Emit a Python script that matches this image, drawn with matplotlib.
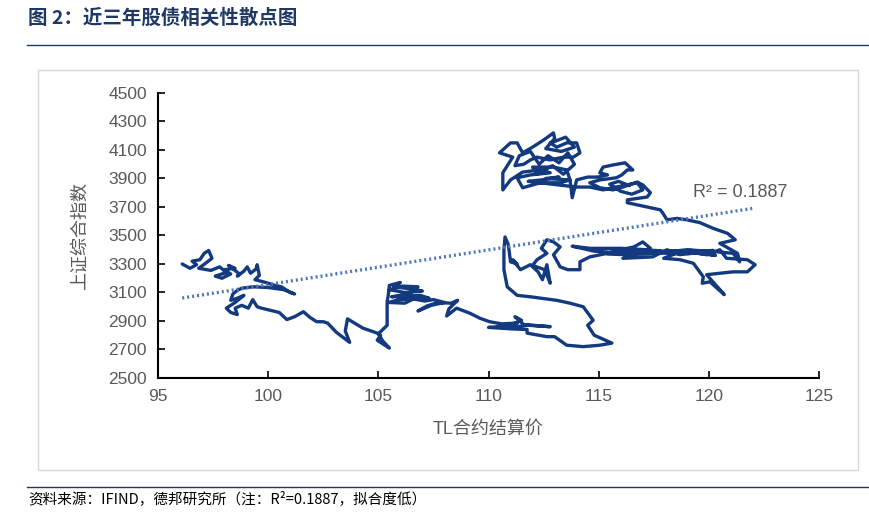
import matplotlib.pyplot as plt
from matplotlib.patches import Rectangle
from matplotlib.lines import Line2D

plt.rcParams['font.family'] = ['Liberation Sans', 'Noto Sans CJK SC', 'DejaVu Sans']

# === 数据：TL合约结算价 vs 上证综合指数（按图读取的轨迹，分段） ===
left_tl = [96.1, 96.45, 96.75, 96.55, 96.9, 97.1, 97.3, 97.45, 97.2, 96.85, 97.4, 97.8, 98.1,
           97.6, 97.9, 98.3, 98.0, 98.5, 98.2, 98.7, 98.6, 98.9, 99.05, 99.2, 99.45, 99.5,
           99.6, 99.4, 99.9, 100.3, 100.6, 101.0, 101.2, 100.7, 100.0, 99.3, 98.8, 98.6, 98.4,
           98.3, 98.6, 98.9, 98.5, 98.1, 98.3, 98.6, 98.5, 98.8, 99.1, 99.3, 99.5, 99.7, 100.1,
           100.5, 100.85, 101.2, 101.6, 101.9, 102.2, 102.5, 102.7, 103.1, 103.7, 103.5, 103.6,
           104.3, 104.95, 105.1, 104.95, 105.5, 105.2, 105.0, 105.4, 105.4]
left_sh = [3300, 3270, 3295, 3320, 3330, 3375, 3395, 3340, 3310, 3270, 3255, 3280, 3240,
           3215, 3200, 3230, 3260, 3270, 3290, 3230, 3215, 3250, 3280, 3235, 3265, 3295,
           3220, 3190, 3170, 3150, 3140, 3100, 3090, 3120, 3135, 3140, 3130, 3115, 3090,
           3045, 3060, 3080, 3030, 2990, 2960, 2945, 2990, 3010, 2990, 3050, 3000, 2990, 2975,
           2960, 2910, 2930, 2965, 2925, 2895, 2895, 2885, 2820, 2750, 2830, 2915,
           2850, 2815, 2800, 2765, 2710, 2760, 2810, 2870, 2975]

mid_tl = [105.4, 105.45, 105.5, 106.0, 105.7, 106.5, 107.0, 106.2, 105.5, 106.1, 106.8, 106.4,
          105.6, 106.9, 107.3, 105.9, 105.5, 106.2, 106.6, 107.1, 107.5, 108.0, 107.4, 106.8,
          107.2, 107.7, 108.3, 108.6, 108.2, 108.1, 108.55, 109.15]
mid_sh = [3035, 3080, 3150, 3170, 3140, 3125, 3110, 3100, 3120, 3145, 3140, 3090,
          3070, 3080, 3060, 3050, 3030, 3025, 3055, 3040, 3050, 3030, 3010, 2970,
          3005, 3030, 3025, 3045, 2985, 2935, 2990, 2955]

low_tl = [109.6, 110.05, 110.6, 111.3, 110.4, 111.0, 111.8, 112.8, 111.6, 111.2, 111.5, 110.9,
          110.0, 111.0, 111.75, 111.75, 112.65, 113.0, 113.55, 114.3, 115.05, 115.6, 114.8,
          114.5, 114.75, 114.3, 113.7, 113.1, 111.9, 111.3, 110.85, 110.7, 110.7, 110.75]
low_sh = [2920, 2895, 2880, 2885, 2860, 2855, 2870, 2860, 2875, 2930, 2905, 2865,
          2855, 2845, 2840, 2815, 2790, 2790, 2730, 2720, 2730, 2745, 2800,
          2870, 2905, 3000, 3025, 3045, 3070, 3080, 3140, 3260, 3400, 3490]

right_tl = [110.9, 111.0, 111.3, 111.1, 111.45, 111.9, 112.25, 112.45, 112.65, 112.8, 112.55,
            112.0, 112.2, 112.65, 112.4, 112.65, 112.95, 113.25, 112.95, 113.25, 113.6, 114.15,
            114.15, 114.6, 115.4, 116.0, 116.6, 117.0, 117.35, 116.75, 116.1, 117.45, 118.1,
            118.7, 119.15, 119.9, 120.5, 120.8, 121.75, 122.1, 121.75, 121.1, 120.5, 119.9,
            120.7, 120.05, 119.7, 119.75, 119.3, 118.7, 117.95, 118.6, 119.5, 120.3, 119.2,
            118.3, 117.45, 116.3, 115.4, 115.9, 116.8, 117.6, 118.5, 119.6, 120.2, 119.0,
            117.3, 115.8, 114.8, 113.8, 114.6, 116.0, 117.2, 118.1, 119.0, 120.4, 121.1,
            121.4, 121.3, 120.5, 121.2, 120.85, 120.2, 119.6, 119.0, 118.55, 118.1, 117.9,
            117.8, 117.2, 116.3]
right_sh = [3435, 3315, 3300, 3330, 3260, 3295, 3245, 3190, 3295, 3165, 3260,
            3290, 3330, 3375, 3410, 3470, 3455, 3420, 3365, 3280, 3260, 3260,
            3315, 3350, 3375, 3400, 3420, 3455, 3410, 3375, 3340, 3350, 3400,
            3365, 3385, 3365, 3400, 3340, 3330, 3295, 3245, 3245, 3235, 3225,
            3085, 3175, 3165, 3210, 3305, 3330, 3340, 3380, 3375, 3360, 3395,
            3390, 3375, 3365, 3370, 3395, 3385, 3395, 3375, 3390, 3395, 3370,
            3380, 3380, 3390, 3425, 3410, 3410, 3400, 3385, 3400, 3385, 3375,
            3315, 3375, 3445, 3470, 3515, 3550, 3590, 3610, 3620, 3610, 3660,
            3680, 3700, 3730]

top_tl = [116.3, 117.2, 117.35, 117.0, 116.75, 116.1, 115.65, 115.05, 114.6, 115.05, 115.8,
          116.05, 116.3, 116.55, 116.2, 115.65, 115.2, 115.05, 115.4, 114.95, 114.5, 114.0,
          113.8, 113.7, 113.25, 112.35, 111.55, 111.3, 111.9, 112.8, 112.35, 111.55, 111.0,
          110.65, 110.65, 111.1, 110.5, 111.0, 111.3, 111.55, 112.0, 112.5, 112.95, 113.0,
          112.6, 113.3, 113.9, 113.5, 113.0, 112.8, 113.1, 113.55, 114.0, 114.15, 113.85,
          113.4, 112.8, 112.2, 111.9, 111.6, 111.2, 111.4, 111.9, 112.3, 112.7, 113.2, 113.6,
          113.9, 113.4, 112.9, 112.2, 112.0, 112.95, 113.55, 113.7, 112.6, 113.2, 112.4,
          111.8, 112.9, 114.0, 114.6, 115.2, 115.8, 116.75, 117.0, 116.5, 116.0, 115.5,
          115.9, 116.4]
top_sh = [3750, 3770, 3800, 3855, 3875, 3840, 3820, 3835, 3870, 3890, 3905,
          3925, 3960, 3960, 4010, 3995, 3980, 3940, 3925, 3910, 3910, 3890,
          3765, 3890, 3870, 3870, 3835, 3905, 3925, 3940, 3960, 3945, 3890,
          3820, 3940, 4050, 4080, 4150, 4150, 4080, 4120, 4170, 4220, 4180,
          4110, 4090, 4120, 4190, 4160, 4150, 4120, 4150, 4150, 4080, 4050,
          4050, 4030, 4050, 4030, 4000, 3990, 4060, 4090, 4000, 4060, 4010, 4080,
          4000, 3930, 3990, 3930, 3980, 3980, 3960, 3890, 3900, 3910, 3890,
          3880, 3860, 3840, 3840, 3820, 3840, 3870, 3820, 3790, 3810, 3860,
          3880, 3850]

tl_price = left_tl + mid_tl + low_tl + right_tl + top_tl
sh_index = left_sh + mid_sh + low_sh + right_sh + top_sh

# 线性趋势线（Excel 拟合，R² = 0.1887）
trend_slope = 24.3
trend_intercept = 726
trend_x = [96.1, 122.1]
r2_text = "R² = 0.1887"

x_ticks = [95, 100, 105, 110, 115, 120, 125]
y_ticks = list(range(2500, 4501, 200))

title_color = "#1F3864"
line_color = "#133A7F"
gray = "#595959"

fig = plt.figure(figsize=(8.7, 5.16), dpi=100)

# 标题与分隔线
fig.text(28 / 870, 1 - 18 / 516, "图 2：近三年股债相关性散点图", fontsize=14, fontweight="bold",
         color=title_color, va="center", ha="left", family=["Noto Sans CJK SC", "DejaVu Sans"])
fig.add_artist(Line2D([27 / 870, 1.0], [1 - 45 / 516] * 2, color=title_color, lw=1.0))

# 图表外框
fig.add_artist(Rectangle((38 / 870, 1 - 470 / 516), 820 / 870, 400 / 516, fill=False,
                         edgecolor="#D9D9D9", lw=1.0))

ax = fig.add_axes([158 / 870, 1 - 378 / 516, 661 / 870, 285 / 516])
ax.plot(tl_price, sh_index, color=line_color, lw=2.4, solid_joinstyle="round",
        solid_capstyle="round")
trend_y = [trend_slope * x + trend_intercept for x in trend_x]
ax.plot(trend_x, trend_y, color="#4F77B8", lw=2.4, linestyle=(0, (0.6, 0.9)))

ax.set_xlim(95, 125)
ax.set_ylim(2500, 4500)
ax.set_xticks(x_ticks)
ax.set_yticks(y_ticks)
ax.tick_params(direction="in", length=5, width=1.2, colors="black", labelcolor=gray,
               labelsize=12.5, pad=8)
for s in ["top", "right"]:
    ax.spines[s].set_visible(False)
for s in ["left", "bottom"]:
    ax.spines[s].set_linewidth(1.5)

ax.set_xlabel("TL合约结算价", fontsize=13, color=gray, labelpad=12,
              family=["Liberation Sans", "Noto Sans CJK SC"])
ax.set_ylabel("上证综合指数", fontsize=13, color=gray, labelpad=14,
              family=["Noto Sans CJK SC"])

ax.text(119.3, 3800, r2_text, fontsize=13, color=gray, ha="left", va="center")

# 资料来源
fig.add_artist(Line2D([27 / 870, 1.0], [1 - 487 / 516] * 2, color=title_color, lw=1.0))
fig.text(28 / 870, 1 - 499 / 516, "资料来源：IFIND，德邦研究所（注：R²=0.1887，拟合度低）",
         fontsize=10.5, color="black", va="center", ha="left",
         family=["Noto Sans CJK SC", "DejaVu Sans"])

fig.savefig("out.png", dpi=100)
